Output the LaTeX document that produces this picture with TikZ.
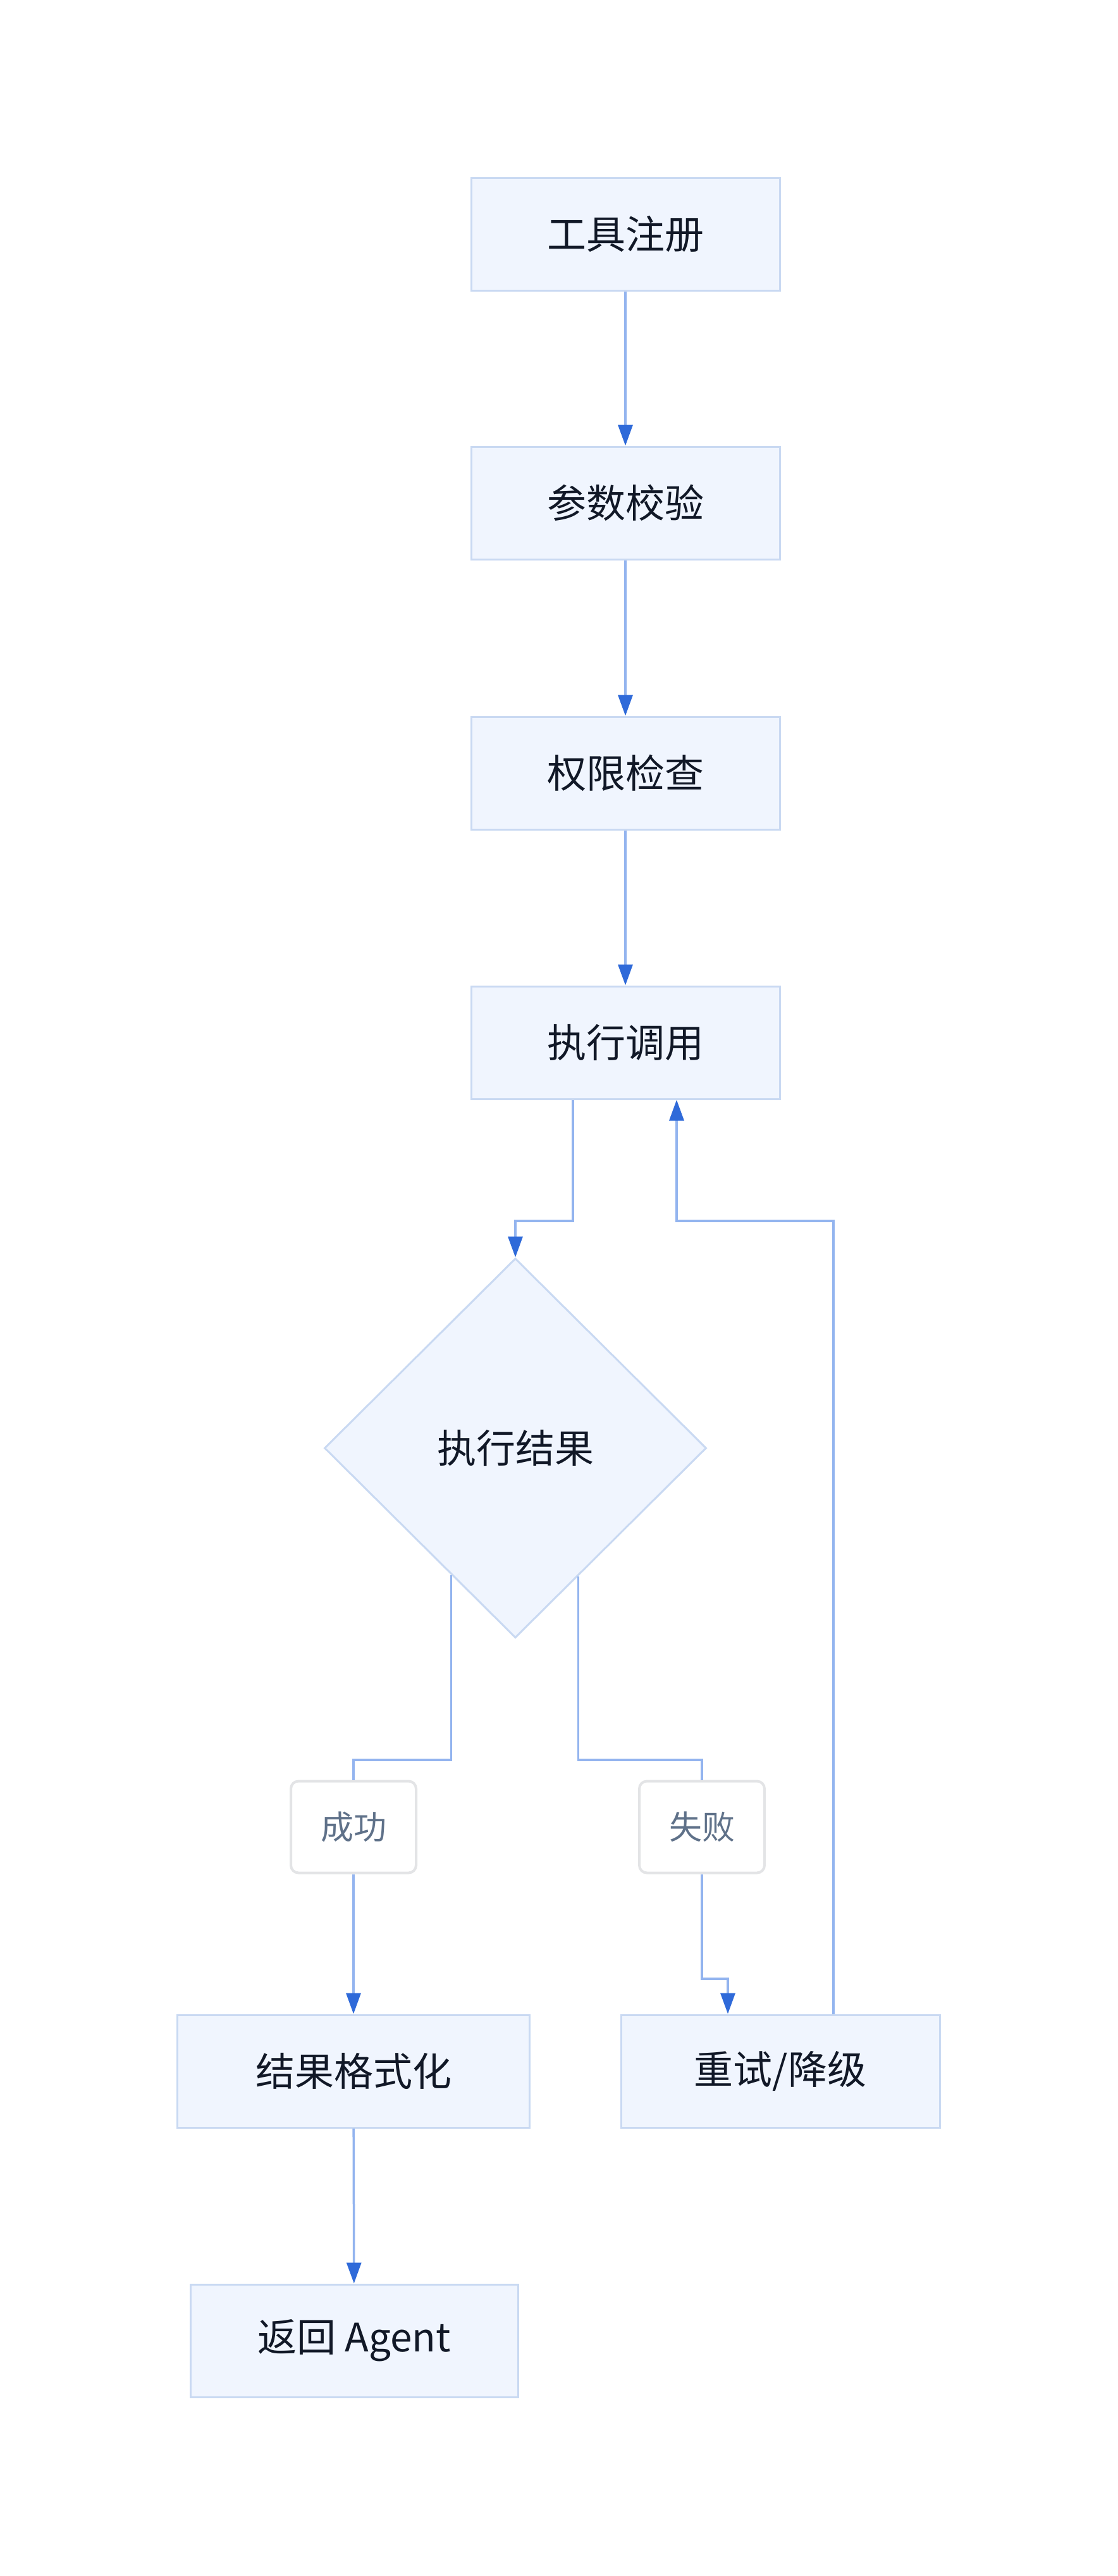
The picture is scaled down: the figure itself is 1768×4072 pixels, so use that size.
\documentclass[tikz,border=0pt]{standalone}
\usepackage{fontspec}
\setmainfont{Noto Sans CJK SC}
\usetikzlibrary{shapes.geometric,arrows.meta,calc}
\definecolor{boxfill}{HTML}{F0F5FE}
\definecolor{boxdraw}{HTML}{C9D9F2}
\definecolor{linecol}{HTML}{93B4EF}
\definecolor{tipcol}{HTML}{2F6AD9}
\definecolor{txt}{HTML}{111827}
\definecolor{lbltxt}{HTML}{5F7189}
\definecolor{lbldraw}{HTML}{E3E4E6}
\tikzset{
  procbox/.style={rectangle, draw=boxdraw, fill=boxfill, line width=3pt,
    minimum width=488pt, minimum height=178pt, inner sep=0pt, text=txt,
    font=\fontsize{62}{74}\selectfont},
  decbox/.style={diamond, draw=boxdraw, fill=boxfill, line width=3pt,
    minimum width=604pt, minimum height=600pt, inner sep=0pt, text=txt,
    font=\fontsize{62}{74}\selectfont},
  lblbox/.style={rectangle, rounded corners=12pt, draw=lbldraw, fill=white, line width=4pt,
    minimum width=198pt, minimum height=145pt, inner sep=0pt, text=lbltxt,
    font=\fontsize{52}{62}\selectfont},
  link/.style={draw=linecol, line width=3.5pt},
  flow/.style={link, -{Triangle[length=33pt,width=23pt,color=tipcol]}},
}
\begin{document}
\begin{tikzpicture}[x=1pt,y=-1pt]
\useasboundingbox[fill=white] (0,0) rectangle (1768,4072);
\node[procbox] (n1) at (989,370) {工具注册};
\node[procbox] (n2) at (989,795) {参数校验};
\node[procbox] (n3) at (989,1222) {权限检查};
\node[procbox] (n4) at (989,1648) {执行调用};
\node[decbox] (d) at (815,2289) {执行结果};
\node[lblbox] (l1) at (559,2888) {成功};
\node[lblbox] (l2) at (1110,2888) {失败};
\node[procbox, minimum width=557pt] (n5) at (559,3274) {结果格式化};
\node[procbox, minimum width=504pt] (n6) at (1234,3274) {重试/降级};
\node[procbox, minimum width=518pt] (n7) at (560,3700) {返回 Agent};

\coordinate (j1) at (815,1930);
\coordinate (j2) at (1070,1930);
\coordinate (j3) at (559,2782);
\coordinate (j4) at (1110,2782);
\coordinate (j5) at (1151,3128);
\coordinate (e1) at ($(d.south)!0.335!(d.west)$);
\coordinate (e2) at ($(d.south)!0.328!(d.east)$);

\draw[flow] (n1) -- (n2);
\draw[flow] (n2) -- (n3);
\draw[flow] (n3) -- (n4);
\draw[flow] ([xshift=-83pt]n4.south) |- (j1) -- (d.north);
\draw[flow] ([xshift=84pt]n6.north) |- (j2) -- (j2 |- n4.south);
\draw[link] (e1) |- (j3) -- (l1.north);
\draw[link] (e2) |- (j4) -- (l2.north);
\draw[flow] (l1.south) -- (l1.south |- n5.north);
\draw[flow] (l2.south) |- (j5) -- (j5 |- n6.north);
\draw[flow] (n5) -- (n7);
\end{tikzpicture}
\end{document}
